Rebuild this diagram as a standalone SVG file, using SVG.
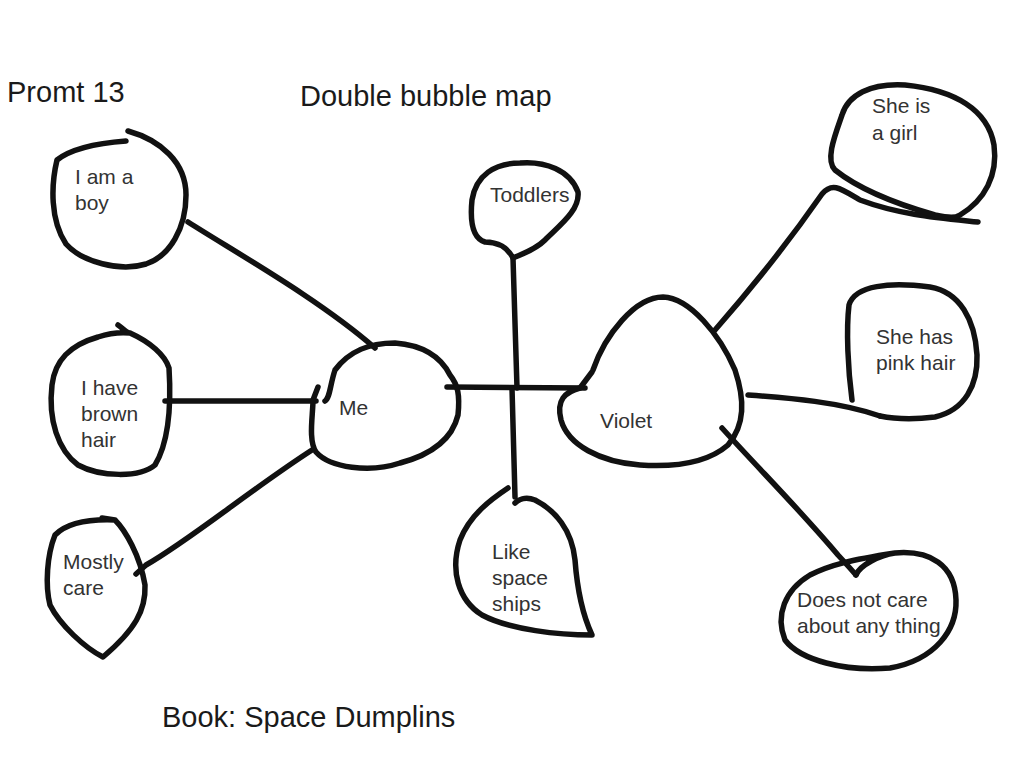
<svg xmlns="http://www.w3.org/2000/svg" width="1024" height="768" viewBox="0 0 1024 768">
<style>
.ink{fill:none;stroke:#111;stroke-width:5.5;stroke-linecap:round;stroke-linejoin:round}
.t{font-family:"Liberation Sans",Arial,sans-serif;font-size:21px;fill:#333}
.h{font-family:"Liberation Sans",Arial,sans-serif;font-size:29px;fill:#1a1a1a}
</style>
<rect width="1024" height="768" fill="#fff"/>
<text class="h" x="7" y="102">Promt 13</text>
<text class="h" x="300" y="106">Double bubble map</text>
<text class="h" x="162" y="727">Book: Space Dumplins</text>
<g id="connectors">
<path class="ink" d="M188,222 C240,255 320,300 375,348"/>
<path class="ink" d="M165,401 L316,401"/>
<path class="ink" d="M136,574 L146,565 C190,540 250,490 312,450"/>
<path class="ink" d="M447,387 L585,388"/>
<path class="ink" d="M513,258 L517,388"/>
<path class="ink" d="M512,388 L515,497"/>
<path class="ink" d="M715,330 C750,290 790,240 822,194 C832,182 840,188 860,200 C900,215 940,218 978,222"/>
<path class="ink" d="M748,395 C790,398 840,402 880,416"/>
<path class="ink" d="M722,428 C760,470 800,510 838,555 C850,568 856,575 856,575"/>
</g>
<g id="n-boy">
<path class="ink" d="M126,141 C100,143 72,148 57,160 C51,185 50,220 66,244 C82,262 120,272 146,264 C170,256 186,228 186,195 C186,162 160,140 128,131"/>
<text class="t" x="75" y="184">I am a</text><text class="t" x="75" y="210">boy</text>
</g>
<g id="n-hair">
<path class="ink" d="M118,325 C124,329 126,333 130,333 C150,342 165,355 169,368 C171,400 170,440 155,465 C140,478 100,477 78,465 C58,450 48,420 52,385 C55,360 70,345 98,337 C110,333 120,332 130,333"/>
<text class="t" x="81" y="395">I have</text><text class="t" x="81" y="421">brown</text><text class="t" x="81" y="447">hair</text>
</g>
<g id="n-care">
<path class="ink" d="M102,518 L115,520 C125,530 140,555 145,585 C146,610 135,630 103,657 C85,648 60,625 50,605 C45,585 47,555 55,535 C68,522 90,519 115,520"/>
<text class="t" x="63" y="569">Mostly</text><text class="t" x="63" y="595">care</text>
</g>
<g id="n-me">
<path class="ink" d="M318,387 L313,400 C313,415 308,440 316,452 C330,468 370,473 400,463 C430,455 452,440 458,415 C460,395 458,385 450,375 C440,355 420,345 395,343 C370,343 350,350 335,370 C330,385 330,398 325,401"/>
<text class="t" x="339" y="415">Me</text>
</g>
<g id="n-toddlers">
<path class="ink" d="M513,258 C508,248 498,242 485,242 C472,238 470,220 472,200 C476,175 495,163 520,163 C545,161 570,170 578,192 C580,210 560,225 545,240 C535,250 522,254 513,258"/>
<text class="t" x="490" y="202">Toddlers</text>
</g>
<g id="n-ships">
<path class="ink" d="M508,488 C490,500 470,515 460,540 C450,570 458,600 482,615 C510,630 560,635 592,635 C585,620 578,600 575,560 C572,530 555,510 535,500 C525,496 518,500 515,503"/>
<text class="t" x="492" y="559">Like</text><text class="t" x="492" y="585">space</text><text class="t" x="492" y="611">ships</text>
</g>
<g id="n-violet">
<path class="ink" d="M593,370 C605,335 635,297 663,297 C690,298 720,335 735,370 C745,400 745,425 728,445 C705,465 670,467 640,465 C600,462 568,445 561,420 C556,400 565,392 580,388 L592,372"/>
<text class="t" x="600" y="428">Violet</text>
</g>
<g id="n-girl">
<path class="ink" d="M960,215 C985,200 998,175 994,145 C988,110 955,90 905,85 C870,83 848,95 842,115 C835,135 825,160 835,170 C860,190 900,205 935,215 C950,218 955,218 960,215"/>
<text class="t" x="872" y="113">She is</text><text class="t" x="872" y="140">a girl</text>
</g>
<g id="n-pink">
<path class="ink" d="M852,400 C848,370 846,330 849,305 C855,285 890,282 930,287 C960,292 975,320 977,355 C978,385 965,410 935,417 C910,420 890,418 880,416"/>
<text class="t" x="876" y="344">She has</text><text class="t" x="876" y="370">pink hair</text>
</g>
<g id="n-care2">
<path class="ink" d="M856,575 C860,565 880,555 895,553 C930,550 955,565 956,600 C957,630 935,660 890,668 C845,672 800,660 785,640 C775,615 785,590 810,575 C830,565 850,560 895,553"/>
<text class="t" x="797" y="607">Does not care</text><text class="t" x="797" y="633">about any thing</text>
</g>
</svg>
